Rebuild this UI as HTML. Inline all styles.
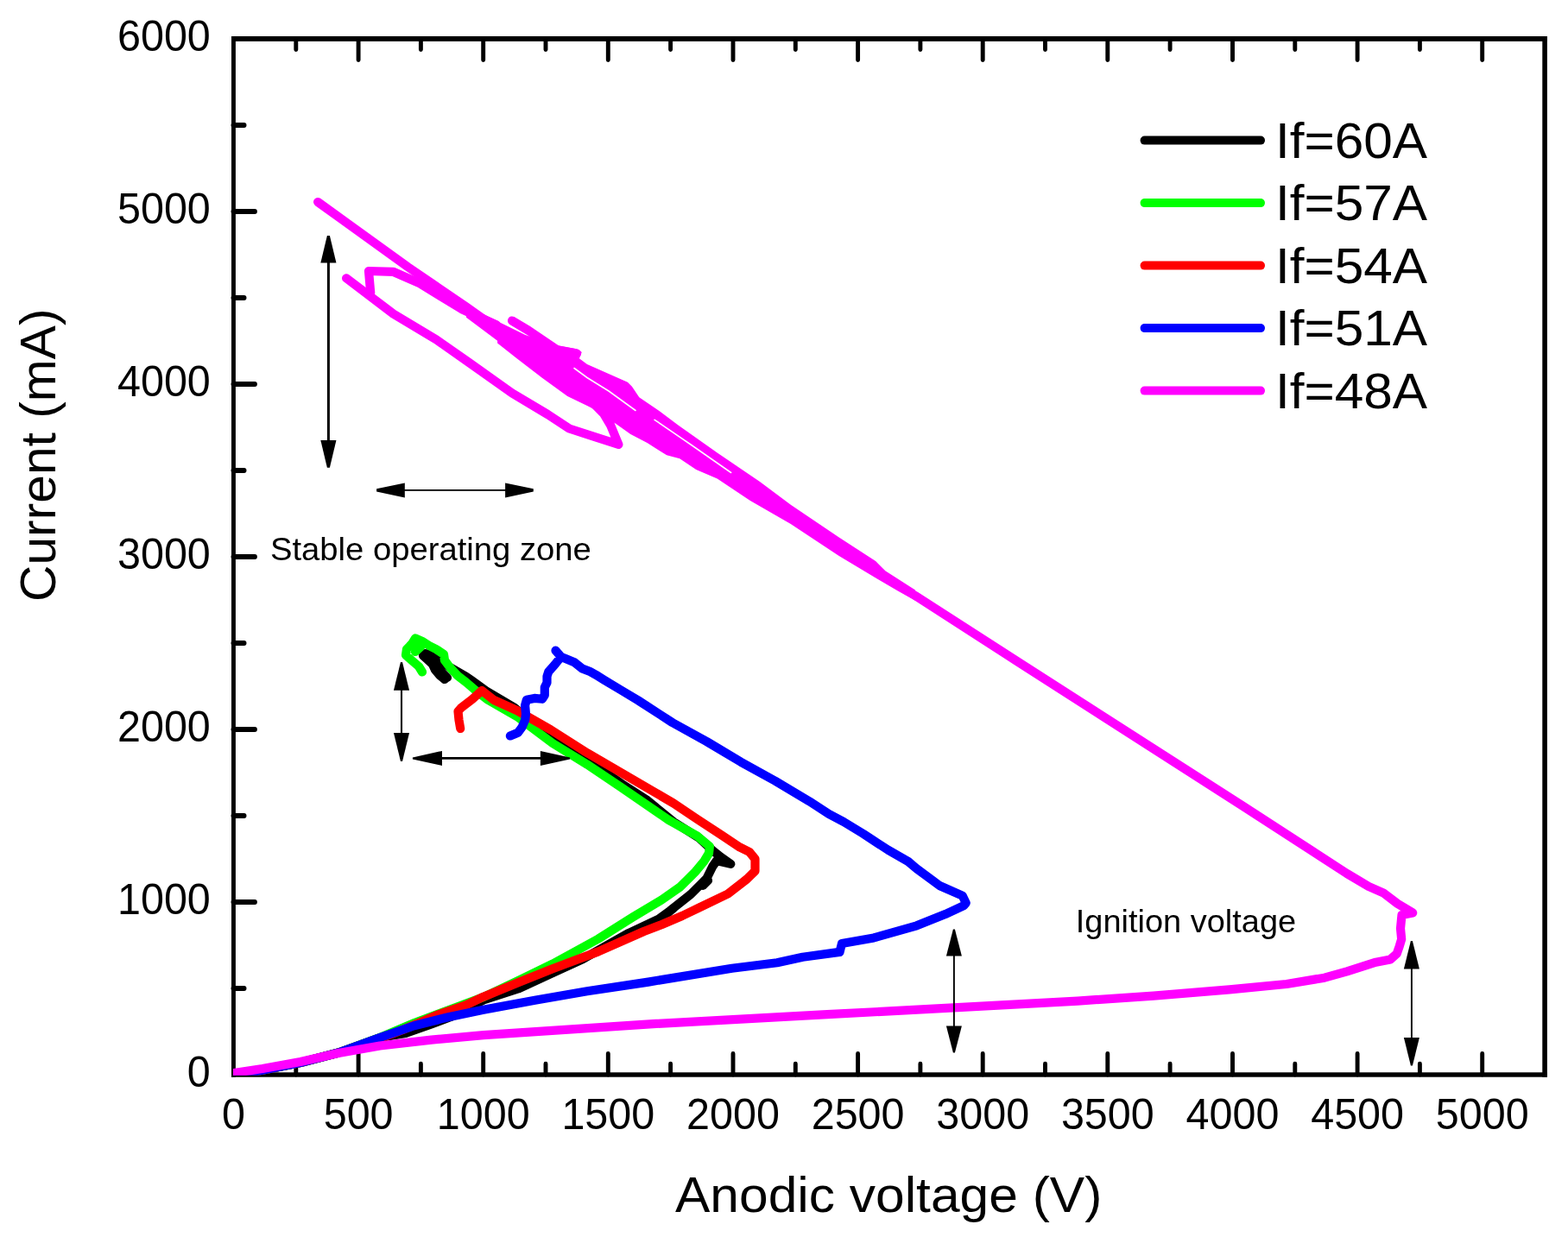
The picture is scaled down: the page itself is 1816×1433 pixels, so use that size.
<!DOCTYPE html><html><head><meta charset="utf-8"><title>Anodic voltage vs Current</title>
<style>html,body{margin:0;padding:0;background:#fff;}svg{display:block;}text{font-family:"Liberation Sans", Arial, Helvetica, sans-serif;fill:#000;}</style></head><body>
<svg width="1816" height="1433" viewBox="0 0 1816 1433">
<rect x="0" y="0" width="1816" height="1433" fill="#fff"/>
<g fill="#000">
<rect x="268" y="42" width="4.9" height="1205.7"/>
<rect x="1786.3" y="42" width="5.6" height="1205.7"/>
<rect x="268" y="42" width="1523.9" height="5.9"/>
<rect x="268" y="1242.3" width="1523.9" height="5.4"/>
</g>
<g stroke="#000" fill="none" stroke-linecap="round">
<path d="M342.8 1245.0V1232.3 M342.8 45.0V57.6 M415.1 1245.0V1220.5 M415.1 45.0V69.5 M487.4 1245.0V1232.3 M487.4 45.0V57.6 M559.7 1245.0V1220.5 M559.7 45.0V69.5 M632.0 1245.0V1232.3 M632.0 45.0V57.6 M704.3 1245.0V1220.5 M704.3 45.0V69.5 M776.6 1245.0V1232.3 M776.6 45.0V57.6 M849.0 1245.0V1220.5 M849.0 45.0V69.5 M921.3 1245.0V1232.3 M921.3 45.0V57.6 M993.6 1245.0V1220.5 M993.6 45.0V69.5 M1065.9 1245.0V1232.3 M1065.9 45.0V57.6 M1138.2 1245.0V1220.5 M1138.2 45.0V69.5 M1210.5 1245.0V1232.3 M1210.5 45.0V57.6 M1282.8 1245.0V1220.5 M1282.8 45.0V69.5 M1355.1 1245.0V1232.3 M1355.1 45.0V57.6 M1427.5 1245.0V1220.5 M1427.5 45.0V69.5 M1499.8 1245.0V1232.3 M1499.8 45.0V57.6 M1572.1 1245.0V1220.5 M1572.1 45.0V69.5 M1644.4 1245.0V1232.3 M1644.4 45.0V57.6 M1716.7 1245.0V1220.5 M1716.7 45.0V69.5" stroke-width="4.9"/>
<path d="M270.4 1145.0H282.6 M270.4 1045.0H295.0 M270.4 945.0H282.6 M270.4 845.0H295.0 M270.4 745.0H282.6 M270.4 645.0H295.0 M270.4 545.0H282.6 M270.4 445.0H295.0 M270.4 345.0H282.6 M270.4 245.0H295.0 M270.4 145.0H282.6" stroke-width="5.8"/>
</g>
<defs><clipPath id="pa"><rect x="270" y="45" width="1519" height="1200.8"/></clipPath></defs>
<g clip-path="url(#pa)">
<path d="M270.5 1245.0 L295.0 1241.5 L348.0 1231.0 L392.0 1219.5 L440.0 1202.0 L469.7 1197.0 L499.5 1186.4 L523.9 1177.2 L560.0 1158.5 L600.0 1145.5 L640.0 1127.0 L675.0 1111.0 L728.0 1081.0 L763.0 1064.5 L776.0 1055.0 L800.0 1036.0 L818.4 1017.7 L825.3 1003.7 L830.0 997.0 L846.3 1000.9 L835.0 993.0 L825.0 985.0 L810.0 971.0 L780.0 952.0 L750.0 927.4 L720.0 908.0 L680.0 880.0 L640.0 856.0 L596.0 820.0 L563.0 800.4 L546.5 788.5 L540.0 784.0 L521.0 773.0 L505.0 763.0 L497.0 757.5 L492.0 757.0 L490.0 759.5 L495.0 764.0 L501.0 769.5 L504.0 776.0 L509.0 782.0 L515.0 787.0" fill="none" stroke="#000000" stroke-width="10.2" stroke-linejoin="round" stroke-linecap="round"/>
<path d="M505.0 772.0 L512.0 779.0 L518.0 785.0" fill="none" stroke="#000000" stroke-width="10.2" stroke-linejoin="round" stroke-linecap="round"/>
<path d="M772.0 1059.0 L779.0 1053.0" fill="none" stroke="#000000" stroke-width="10.2" stroke-linejoin="round" stroke-linecap="round"/>
<path d="M814.0 1026.0 L820.0 1020.0" fill="none" stroke="#000000" stroke-width="10.2" stroke-linejoin="round" stroke-linecap="round"/>
<path d="M270.5 1245.0 L295.0 1241.5 L348.0 1231.0 L392.0 1219.5 L440.0 1202.0 L480.0 1185.0 L520.0 1170.0 L560.0 1155.0 L600.0 1136.0 L640.0 1116.6 L692.9 1087.6 L733.0 1062.4 L766.0 1042.6 L788.0 1027.2 L804.6 1010.7 L815.6 997.4 L821.0 988.5 L821.9 980.7 L807.9 968.8 L780.0 953.1 L774.5 950.0 L719.3 912.0 L680.0 885.6 L640.0 861.0 L598.7 830.0 L564.0 810.0 L551.0 800.0 L540.0 790.5 L530.0 782.7 L521.0 773.0 L515.0 765.0 L514.0 758.0 L505.0 752.0 L497.0 748.0 L490.0 743.5 L481.0 739.5 L477.0 746.0 L471.0 752.0 L470.0 759.0 L478.0 766.0 L485.0 772.0 L489.0 778.5" fill="none" stroke="#00ff00" stroke-width="10.2" stroke-linejoin="round" stroke-linecap="round"/>
<path d="M476.0 747.0 L487.0 749.5 L481.0 755.0" fill="none" stroke="#00ff00" stroke-width="10.2" stroke-linejoin="round" stroke-linecap="round"/>
<path d="M270.5 1245.0 L295.0 1241.5 L348.0 1231.0 L392.0 1219.5 L440.0 1203.0 L466.4 1193.0 L506.1 1175.9 L539.1 1164.6 L560.0 1154.7 L600.0 1138.2 L640.0 1122.2 L692.9 1102.4 L745.7 1079.0 L766.0 1071.2 L790.0 1061.0 L810.0 1051.4 L843.0 1035.5 L865.0 1018.4 L874.5 1009.0 L874.5 995.0 L868.0 987.0 L856.7 981.4 L835.8 967.4 L807.9 949.3 L780.0 930.5 L680.0 872.2 L638.0 845.5 L598.6 823.0 L572.0 811.0 L558.0 800.0 L547.0 810.0 L534.0 820.0 L530.5 824.0 L531.5 834.0 L533.2 844.0" fill="none" stroke="#ff0000" stroke-width="10.2" stroke-linejoin="round" stroke-linecap="round"/>
<path d="M270.5 1245.0 L295.0 1241.5 L348.0 1231.0 L392.0 1219.5 L440.0 1202.0 L479.6 1188.2 L519.3 1178.3 L560.0 1169.8 L619.5 1158.7 L680.0 1148.3 L750.8 1137.6 L847.7 1121.8 L900.0 1115.3 L929.6 1108.7 L972.5 1102.9 L975.0 1093.0 L1012.0 1086.4 L1061.7 1072.3 L1094.8 1059.1 L1116.2 1049.2 L1118.7 1046.0 L1114.6 1037.6 L1088.2 1026.0 L1061.7 1006.3 L1051.8 998.0 L1028.7 984.8 L1000.0 966.0 L977.0 952.0 L960.0 943.0 L937.4 928.3 L897.7 904.6 L858.0 882.7 L818.4 859.0 L778.8 837.1 L739.1 811.4 L719.3 799.5 L699.5 787.6 L690.0 781.7 L683.4 778.1 L674.3 774.5 L665.2 767.2 L656.2 763.6 L649.8 760.9 L643.5 753.6 L649.8 760.9 L642.6 769.9 L635.3 778.1 L633.5 783.5 L633.5 790.8 L630.8 796.2 L630.8 805.3 L628.0 809.8 L619.0 808.9 L609.9 810.7 L608.1 817.1 L609.0 827.1 L608.1 834.3 L604.5 842.5 L599.9 848.8 L590.9 852.5" fill="none" stroke="#0000ff" stroke-width="10.2" stroke-linejoin="round" stroke-linecap="round"/>
<path d="M270.5 1243.0 L304.0 1238.0 L348.0 1230.0 L392.0 1220.0 L440.0 1211.5 L499.5 1204.6 L560.0 1199.1 L760.0 1185.9 L958.0 1175.2 L1160.0 1164.4 L1248.0 1159.6 L1336.0 1153.6 L1424.0 1146.3 L1490.0 1140.0 L1534.0 1132.7 L1560.0 1125.4 L1593.5 1114.7 L1610.3 1111.4 L1617.8 1104.7 L1620.7 1096.3 L1623.2 1088.0 L1622.0 1075.4 L1623.5 1060.0 L1636.2 1057.4 L1618.6 1046.9 L1602.0 1034.3 L1585.0 1026.8 L1560.0 1012.0 L1440.0 934.1 L1180.0 767.4 L1060.0 690.0 L1045.0 681.0" fill="none" stroke="#ff00ff" stroke-width="10.2" stroke-linejoin="round" stroke-linecap="round"/>
<path d="M593.0 371.5 L612.3 383.0 L645.5 405.5 L668.0 409.5" fill="none" stroke="#ff00ff" stroke-width="10.2" stroke-linejoin="round" stroke-linecap="round"/>
<path d="M368.1 234.0 L472.2 309.1 L540.0 355.5 L566.0 374.0" fill="none" stroke="#ff00ff" stroke-width="10.2" stroke-linejoin="round" stroke-linecap="round"/>
<path d="M401.1 322.3 L455.6 363.6 L505.2 393.4 L543.2 420.0 L593.0 455.4 L634.2 480.0 L659.3 496.5 L716.4 515.0 L707.1 492.5 L699.1 479.2 L690.0 470.0" fill="none" stroke="#ff00ff" stroke-width="10.2" stroke-linejoin="round" stroke-linecap="round"/>
<path d="M429.2 338.9 L427.0 314.0 L455.3 314.8 L485.1 327.7 L534.6 358.0 L575.0 376.5" fill="none" stroke="#ff00ff" stroke-width="10.2" stroke-linejoin="round" stroke-linecap="round"/>
<path d="M540.0 350.0 L557.6 363.0 L608.4 387.9 L645.5 400.0 L668.0 404.3 L673.8 408.0 L670.9 415.2 L680.0 422.1 L726.9 442.7 L731.9 447.7 L740.3 460.3 L763.8 476.2 L785.4 492.6 L830.7 524.4 L880.0 558.0 L915.8 584.7 L971.7 622.6 L1014.1 650.0 L1025.3 661.2 L1060.0 683.5 L1060.0 695.8 L1039.8 684.6 L1016.3 670.7 L971.7 643.9 L915.8 607.0 L868.9 580.0 L830.7 554.4 L806.2 543.9 L787.2 531.2 L772.1 527.3 L749.5 513.0 L730.3 503.0 L712.7 490.4 L699.3 483.7 L695.1 477.8 L680.0 469.9 L657.2 459.1 L627.9 437.7 L598.6 415.2 L576.1 397.6 L576.1 394.7 L540.0 367.8 Z" fill="#ff00ff"/>
<path d="M758.1 486.3 L800.0 515.0 L846.6 547.5" fill="none" stroke="#fff" stroke-width="1.6" stroke-linecap="round"/>
<path d="M665.0 426.5 L680.0 437.5 L705.0 453.0 L736.0 475.5" fill="none" stroke="#fff" stroke-width="1.6" stroke-linecap="round"/>
</g>
<g font-size="48">
<text transform="translate(243.8 1258.7) scale(1.01 1.04)" text-anchor="end">0</text>
<text transform="translate(243.8 1058.7) scale(1.01 1.04)" text-anchor="end">1000</text>
<text transform="translate(243.8 858.7) scale(1.01 1.04)" text-anchor="end">2000</text>
<text transform="translate(243.8 658.7) scale(1.01 1.04)" text-anchor="end">3000</text>
<text transform="translate(243.8 458.7) scale(1.01 1.04)" text-anchor="end">4000</text>
<text transform="translate(243.8 258.7) scale(1.01 1.04)" text-anchor="end">5000</text>
<text transform="translate(243.8 58.7) scale(1.01 1.04)" text-anchor="end">6000</text>
<text transform="translate(270.4 1307.5) scale(1.01 1.04)" text-anchor="middle">0</text>
<text transform="translate(415.1 1307.5) scale(1.01 1.04)" text-anchor="middle">500</text>
<text transform="translate(559.7 1307.5) scale(1.01 1.04)" text-anchor="middle">1000</text>
<text transform="translate(704.3 1307.5) scale(1.01 1.04)" text-anchor="middle">1500</text>
<text transform="translate(849.0 1307.5) scale(1.01 1.04)" text-anchor="middle">2000</text>
<text transform="translate(993.6 1307.5) scale(1.01 1.04)" text-anchor="middle">2500</text>
<text transform="translate(1138.2 1307.5) scale(1.01 1.04)" text-anchor="middle">3000</text>
<text transform="translate(1282.8 1307.5) scale(1.01 1.04)" text-anchor="middle">3500</text>
<text transform="translate(1427.5 1307.5) scale(1.01 1.04)" text-anchor="middle">4000</text>
<text transform="translate(1572.1 1307.5) scale(1.01 1.04)" text-anchor="middle">4500</text>
<text transform="translate(1716.7 1307.5) scale(1.01 1.04)" text-anchor="middle">5000</text>
</g>
<text transform="translate(782 1403.8) scale(1.054 0.995)" font-size="57.4">Anodic voltage (V)</text>
<text transform="translate(63.9 697) rotate(-90) scale(1.031 1)" font-size="57">Current (mA)</text>
<path d="M1325.6 162.6H1460" stroke="#000000" stroke-width="10" stroke-linecap="round"/>
<text transform="translate(1476.9 183.0) scale(1.041 1)" font-size="58">If=60A</text>
<path d="M1325.6 235.1H1460" stroke="#00ff00" stroke-width="10" stroke-linecap="round"/>
<text transform="translate(1476.9 255.4) scale(1.041 1)" font-size="58">If=57A</text>
<path d="M1325.6 307.6H1460" stroke="#ff0000" stroke-width="10" stroke-linecap="round"/>
<text transform="translate(1476.9 327.9) scale(1.041 1)" font-size="58">If=54A</text>
<path d="M1325.6 380.1H1460" stroke="#0000ff" stroke-width="10" stroke-linecap="round"/>
<text transform="translate(1476.9 400.4) scale(1.041 1)" font-size="58">If=51A</text>
<path d="M1325.6 452.6H1460" stroke="#ff00ff" stroke-width="10" stroke-linecap="round"/>
<text transform="translate(1476.9 472.8) scale(1.041 1)" font-size="58">If=48A</text>
<text transform="translate(312.9 648.8) scale(1.02 1)" font-size="37.5">Stable operating zone</text>
<text transform="translate(1245.8 1079.6) scale(1.0125 1)" font-size="37.5">Ignition voltage</text>
<path d="M380.40 303.60V511.10" stroke="#000" stroke-width="3.00"/><path d="M378.90 273.00L381.90 273.00L389.45 304.60L371.35 304.60Z" fill="#000"/><path d="M378.90 541.70L381.90 541.70L389.45 510.10L371.35 510.10Z" fill="#000"/>
<path d="M467.80 567.90H586.10" stroke="#000" stroke-width="1.80"/><path d="M436.10 566.20L436.10 569.60L468.80 576.40L468.80 559.40Z" fill="#000"/><path d="M617.80 566.20L617.80 569.60L585.10 576.40L585.10 559.40Z" fill="#000"/>
<path d="M465.00 798.80V850.10" stroke="#000" stroke-width="2.10"/><path d="M464.00 767.00L466.00 767.00L474.05 799.80L455.95 799.80Z" fill="#000"/><path d="M464.00 881.90L466.00 881.90L474.05 849.10L455.95 849.10Z" fill="#000"/>
<path d="M511.00 878.40H626.90" stroke="#000" stroke-width="2.80"/><path d="M477.90 877.40L477.90 879.40L512.00 886.90L512.00 869.90Z" fill="#000"/><path d="M660.00 877.40L660.00 879.40L625.90 886.90L625.90 869.90Z" fill="#000"/>
<path d="M1104.90 1106.60V1189.40" stroke="#000" stroke-width="1.90"/><path d="M1103.90 1076.50L1105.90 1076.50L1113.90 1107.60L1095.90 1107.60Z" fill="#000"/><path d="M1103.90 1219.50L1105.90 1219.50L1113.90 1188.40L1095.90 1188.40Z" fill="#000"/>
<path d="M1634.90 1121.60V1202.90" stroke="#000" stroke-width="1.90"/><path d="M1633.90 1090.00L1635.90 1090.00L1643.90 1122.60L1625.90 1122.60Z" fill="#000"/><path d="M1633.90 1234.50L1635.90 1234.50L1643.90 1201.90L1625.90 1201.90Z" fill="#000"/>
</svg></body></html>
